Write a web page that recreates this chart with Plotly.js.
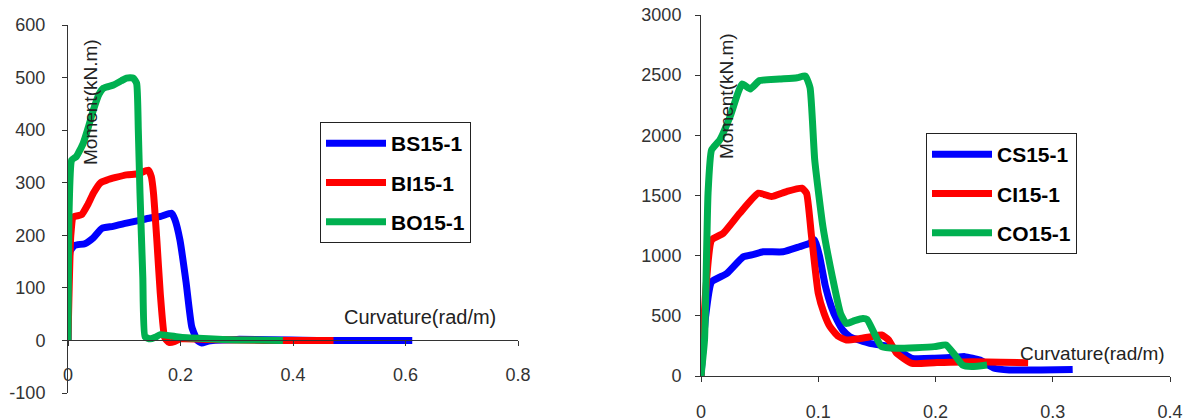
<!DOCTYPE html>
<html><head><meta charset="utf-8">
<script src="https://cdn.plot.ly/plotly-3.0.1.min.js"></script>
<style>html,body{margin:0;padding:0;background:#fff;} #chart{width:1185px;height:419px;}</style>
</head><body><div id="chart"></div>
<script>
// ---- data ----
const bsName = 'BS15-1';
const bsX = [0, 0.004, 0.012, 0.03, 0.045, 0.06, 0.08, 0.104, 0.125, 0.146, 0.165, 0.184, 0.19, 0.199, 0.21, 0.22, 0.23, 0.238, 0.25, 0.3, 0.45, 0.612];
const bsY = [0, 170, 181, 184, 195, 213, 217, 223, 228, 233, 236, 242, 230, 191, 110, 26, 0, -5, -1, 2, 0, 0];

const biName = 'BI15-1';
const biX = [0, 0.005, 0.0095, 0.024, 0.035, 0.045, 0.058, 0.069, 0.085, 0.104, 0.125, 0.143, 0.148, 0.152, 0.158, 0.164, 0.172, 0.18, 0.19, 0.2, 0.25, 0.35, 0.472];
const biY = [0, 200, 235, 239, 258, 280, 300, 305, 310, 315, 317, 324, 312, 280, 190, 90, 5, -4, -2, 3, 2, 0, 0];

const boName = 'BO15-1';
const boX = [0, 0.002, 0.0065, 0.015, 0.027, 0.036, 0.045, 0.055, 0.063, 0.081, 0.095, 0.104, 0.116, 0.122, 0.125, 0.128, 0.133, 0.137, 0.146, 0.155, 0.164, 0.2, 0.25, 0.3, 0.382];
const boY = [0, 250, 343, 350, 375, 405, 438, 468, 480, 486, 494, 499, 499, 489, 400, 280, 120, 7, 3, 6, 11, 6, 3, 1, 0];

const csName = 'CS15-1';
const csX = [0, 0.004, 0.009, 0.022, 0.036, 0.045, 0.053, 0.07, 0.084, 0.092, 0.097, 0.101, 0.106, 0.111, 0.116, 0.121, 0.127, 0.144, 0.161, 0.172, 0.18, 0.199, 0.215, 0.225, 0.238, 0.25, 0.263, 0.29, 0.317];
const csY = [0, 500, 782, 852, 990, 1010, 1032, 1032, 1074, 1100, 1130, 1000, 750, 580, 465, 380, 327, 271, 244, 190, 147, 147, 155, 161, 133, 64, 50, 50, 55];

const ciName = 'CI15-1';
const ciX = [0, 0.004, 0.009, 0.019, 0.033, 0.049, 0.06, 0.073, 0.086, 0.09, 0.094, 0.1, 0.105, 0.11, 0.117, 0.124, 0.135, 0.145, 0.154, 0.16, 0.167, 0.18, 0.199, 0.231, 0.279];
const ciY = [0, 700, 1130, 1186, 1352, 1519, 1491, 1533, 1561, 1519, 1186, 687, 520, 410, 330, 299, 310, 327, 341, 300, 188, 105, 111, 119, 111];

const coName = 'CO15-1';
const coX = [0, 0.003, 0.006, 0.009, 0.016, 0.025, 0.035, 0.042, 0.05, 0.067, 0.082, 0.089, 0.093, 0.097, 0.104, 0.112, 0.119, 0.124, 0.131, 0.138, 0.1417, 0.148, 0.154, 0.167, 0.199, 0.209, 0.216, 0.223, 0.231, 0.244];
const coY = [0, 300, 1519, 1878, 1961, 2161, 2427, 2385, 2455, 2468, 2479, 2493, 2396, 1795, 1240, 825, 520, 436, 460, 478, 470, 350, 244, 230, 244, 258, 180, 91, 78, 91];

const leftXTicks = [0, 0.2, 0.4, 0.6, 0.8];
const leftXText = ['0', '0.2', '0.4', '0.6', '0.8'];
const leftYTicks = [-100, 0, 100, 200, 300, 400, 500, 600];
const leftYText = ['-100', '0', '100', '200', '300', '400', '500', '600'];
const rightXTicks = [0, 0.1, 0.2, 0.3, 0.4];
const rightXText = ['0', '0.1', '0.2', '0.3', '0.4'];
const rightYTicks = [0, 500, 1000, 1500, 2000, 2500, 3000];
const rightYText = ['0', '500', '1000', '1500', '2000', '2500', '3000'];
const xTitle = 'Curvature(rad/m)';
const yTitle = 'Moment(kN.m)';

// ---- styling / layout ----
const W = 1185, H = 419;
const BLUE = '#0000FF', RED = '#FF0000', GREEN = '#00B050';
const FONT = 'Liberation Sans, Arial, sans-serif';
const AXC = '#333333';
const LW = 7;

function px2fx(p) { return p / W; }
function px2fy(p) { return 1 - p / H; }

const leftBox = {x0: 68, x1: 518, y0: 25, y1: 393};
const rightBox = {x0: 701, x1: 1170, y0: 15, y1: 376};
const leftYRange = [-100, 600];
const rightYRange = [0, 3000];

const lyDom = [px2fy(leftBox.y1), px2fy(leftBox.y0)];
const zeroPos = lyDom[0] + (0 - leftYRange[0]) / (leftYRange[1] - leftYRange[0]) * (lyDom[1] - lyDom[0]);

function tr(x, y, name, color, xa, ya, leg, grp) {
  return {x: x, y: y, name: name, type: 'scatter', mode: 'lines',
    line: {color: color, width: LW, shape: 'spline', smoothing: 0.45},
    xaxis: xa, yaxis: ya, legend: leg, legendgroup: grp, hoverinfo: 'skip'};
}

const data = [
  tr(bsX, bsY, bsName, BLUE, 'x', 'y', 'legend', 'a'),
  tr(biX, biY, biName, RED, 'x', 'y', 'legend', 'b'),
  tr(boX, boY, boName, GREEN, 'x', 'y', 'legend', 'c'),
  tr(csX, csY, csName, BLUE, 'x2', 'y2', 'legend2', 'd'),
  tr(ciX, ciY, ciName, RED, 'x2', 'y2', 'legend2', 'e'),
  tr(coX, coY, coName, GREEN, 'x2', 'y2', 'legend2', 'f')
];

const tickFont = {family: FONT, size: 18, color: AXC};
const axCommon = {showgrid: false, zeroline: false, showline: true, linecolor: AXC, linewidth: 1,
  ticks: 'outside', ticklen: 5, tickcolor: AXC, tickwidth: 1, tickfont: tickFont, fixedrange: true};

const legCommon = {bordercolor: '#222', borderwidth: 1, bgcolor: '#fff',
  font: {family: FONT, size: 21, color: '#000', weight: 'bold'},
  itemwidth: 60, tracegroupgap: 9, traceorder: 'grouped', xanchor: 'left', yanchor: 'top'};

const layout = {
  width: W, height: H,
  margin: {l: 0, r: 0, t: 0, b: 0},
  paper_bgcolor: '#fff', plot_bgcolor: '#fff',
  showlegend: true,
  xaxis: Object.assign({}, axCommon, {domain: [px2fx(leftBox.x0), px2fx(leftBox.x1)], range: [0, 0.8],
    anchor: 'free', position: zeroPos, tickvals: leftXTicks, ticktext: leftXText, ticklabelstandoff: 13}),
  yaxis: Object.assign({}, axCommon, {domain: lyDom, range: leftYRange, anchor: 'x',
    tickvals: leftYTicks, ticktext: leftYText, ticklabelstandoff: 13}),
  xaxis2: Object.assign({}, axCommon, {domain: [px2fx(rightBox.x0), px2fx(rightBox.x1)], range: [0, 0.4],
    anchor: 'y2', tickvals: rightXTicks, ticktext: rightXText, ticklabelstandoff: 14}),
  yaxis2: Object.assign({}, axCommon, {domain: [px2fy(rightBox.y1), px2fy(rightBox.y0)], range: rightYRange, anchor: 'x2',
    tickvals: rightYTicks, ticktext: rightYText, ticklabelstandoff: 10}),
  legend: Object.assign({}, legCommon, {x: px2fx(320), y: px2fy(122)}),
  legend2: Object.assign({}, legCommon, {x: px2fx(926), y: px2fy(133)}),
  annotations: [
    {text: yTitle, xref: 'paper', yref: 'paper', x: px2fx(91), y: px2fy(102), textangle: -90,
     showarrow: false, xanchor: 'center', yanchor: 'middle', font: {family: FONT, size: 19, color: '#222'}},
    {text: yTitle, xref: 'paper', yref: 'paper', x: px2fx(727), y: px2fy(96), textangle: -90,
     showarrow: false, xanchor: 'center', yanchor: 'middle', font: {family: FONT, size: 19, color: '#222'}},
    {text: xTitle, xref: 'paper', yref: 'paper', x: px2fx(420), y: px2fy(317),
     showarrow: false, xanchor: 'center', yanchor: 'middle', font: {family: FONT, size: 20, color: '#222'}},
    {text: xTitle, xref: 'paper', yref: 'paper', x: px2fx(1092), y: px2fy(353),
     showarrow: false, xanchor: 'center', yanchor: 'middle', font: {family: FONT, size: 19, color: '#222'}}
  ]
};

Plotly.newPlot('chart', data, layout, {displayModeBar: false, staticPlot: true});
</script>
</body></html>
